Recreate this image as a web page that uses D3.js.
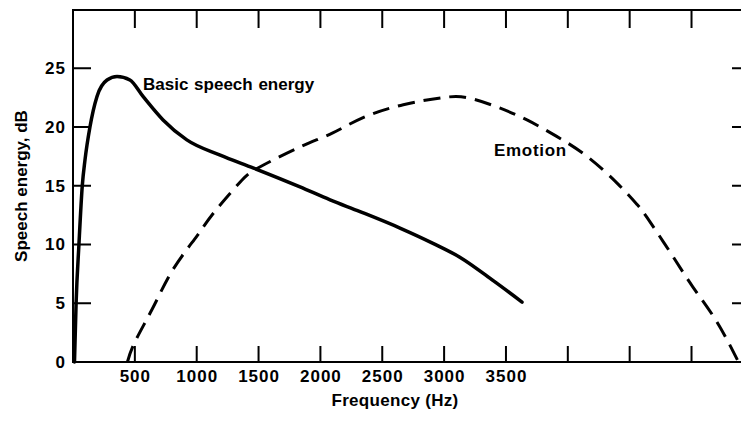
<!DOCTYPE html>
<html>
<head>
<meta charset="utf-8">
<script src="https://cdn.jsdelivr.net/npm/d3@7"></script>
<style>
  body { margin: 0; background: #fff; }
  svg text { font-family: "Liberation Sans", Arial, sans-serif; font-weight: bold; fill: #000; }
</style>
</head>
<body>
<script>
/* speech energy vs frequency */
var xTicks = [500, 1000, 1500, 2000, 2500, 3000, 3500, 4000, 4500, 5000];
var xTickLabels = ["500", "1000", "1500", "2000", "2500", "3000", "3500", "", "", ""];
var yTicks = [0, 5, 10, 15, 20, 25];

var basicFreq = [12, 25, 48, 75, 97, 137, 194, 275, 356, 460, 566, 728, 920, 1190, 1460, 1835, 2078, 2320, 2643, 2910, 3130, 3400, 3630];
var basicDb   = [0, 5, 10, 15, 17.2, 20, 22.6, 24.0, 24.3, 24.0, 22.6, 20.6, 18.9, 17.6, 16.5, 14.9, 13.8, 12.8, 11.4, 10.1, 8.9, 6.9, 5.1];

var emoFreq = [440, 500, 650, 810, 1000, 1130, 1350, 1510, 1835, 2100, 2345, 2670, 2990, 3185, 3430, 3670, 3910, 4155, 4400, 4560, 4640, 4830, 5010, 5200, 5380];
var emoDb   = [0, 1.7, 4.7, 7.9, 10.7, 12.6, 15.3, 16.6, 18.3, 19.5, 20.8, 21.9, 22.5, 22.5, 21.7, 20.6, 19.2, 17.5, 15.2, 13.4, 12.3, 9.3, 6.4, 3.5, 0];

var width = 741,
    height = 421;

var svg = d3.select("body").append("svg")
    .attr("width", width)
    .attr("height", height);

var x = d3.scaleLinear().domain([0, 5400]).range([73, 741]);
var y = d3.scaleLinear().domain([0, 30]).range([362, 9.5]);

var x0 = x.range()[0], x1 = x.range()[1];
var yBot = 362, yTop = 10;

function styleAxis(g) {
    g.selectAll("path.domain").remove();
    g.selectAll(".tick line").remove();
    g.selectAll(".tick text").attr("font-size", 17).attr("letter-spacing", 1);
}

// axes give the tick labels
svg.append("g")
    .attr("transform", "translate(0," + yBot + ")")
    .call(d3.axisBottom(x)
        .tickValues(xTicks)
        .tickSize(0)
        .tickPadding(8)
        .tickFormat(function(d, i) { return xTickLabels[i]; }))
    .call(styleAxis);

svg.append("g")
    .attr("transform", "translate(" + x0 + ",0)")
    .call(d3.axisLeft(y)
        .tickValues(yTicks)
        .tickSize(0)
        .tickPadding(7))
    .call(styleAxis);

// frame + inward tick marks as one path
var frame = d3.path();
frame.moveTo(x1, yTop);
frame.lineTo(x0, yTop);
frame.lineTo(x0, yBot);
frame.lineTo(x1, yBot);
xTicks.forEach(function(d) {
    frame.moveTo(x(d), yBot);
    frame.lineTo(x(d), yBot - 16);
    frame.moveTo(x(d), yTop);
    frame.lineTo(x(d), yTop + 18);
});
yTicks.slice(1).forEach(function(d) {
    frame.moveTo(x0, y(d));
    frame.lineTo(x0 + 18, y(d));
    frame.moveTo(x1 - 9, y(d));
    frame.lineTo(x1, y(d));
});

svg.append("path")
    .attr("d", frame.toString())
    .attr("fill", "none")
    .attr("stroke", "#000")
    .attr("stroke-width", 2);

var line = d3.line()
    .x(function(d) { return x(d[0]); })
    .y(function(d) { return y(d[1]); })
    .curve(d3.curveMonotoneX);

svg.append("path")
    .datum(d3.zip(basicFreq, basicDb))
    .attr("d", line)
    .attr("fill", "none")
    .attr("stroke", "#000")
    .attr("stroke-width", 3.5)
    .attr("stroke-linecap", "round");

svg.append("path")
    .datum(d3.zip(emoFreq, emoDb))
    .attr("d", line.curve(d3.curveNatural))
    .attr("fill", "none")
    .attr("stroke", "#000")
    .attr("stroke-width", 3)
    .attr("stroke-dasharray", "17,9");

// labels
svg.append("text")
    .attr("x", 143)
    .attr("y", 90)
    .attr("font-size", 17)
    .attr("word-spacing", 1)
    .text("Basic speech energy");

svg.append("text")
    .attr("x", 494)
    .attr("y", 156)
    .attr("font-size", 17)
    .attr("letter-spacing", 0.7)
    .text("Emotion");

svg.append("text")
    .attr("x", 395)
    .attr("y", 406)
    .attr("text-anchor", "middle")
    .attr("font-size", 17)
    .attr("letter-spacing", 0.3)
    .text("Frequency (Hz)");

svg.append("text")
    .attr("transform", "translate(27,186) rotate(-90)")
    .attr("text-anchor", "middle")
    .attr("font-size", 17)
    .text("Speech energy, dB");
</script>
</body>
</html>
